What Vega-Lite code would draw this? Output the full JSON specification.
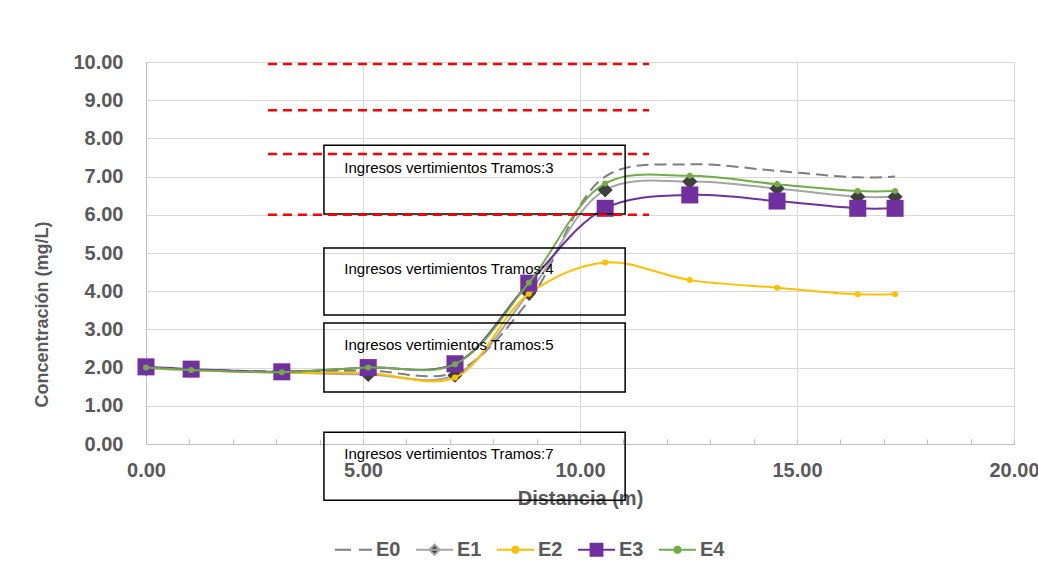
{
  "$schema": "https://vega.github.io/schema/vega-lite/v6.json",
  "width": 868,
  "height": 382,
  "autosize": "none",
  "padding": {"left": 146, "top": 62, "right": 24, "bottom": 120},
  "background": "white",
  "config": {
    "font": "Liberation Sans",
    "view": {"stroke": null},
    "axis": {
      "labelFont": "Liberation Sans",
      "labelFontWeight": "bold",
      "labelFontSize": 20,
      "labelColor": "#595959",
      "titleFont": "Liberation Sans",
      "titleFontWeight": "bold",
      "titleFontSize": 20,
      "titleColor": "#595959",
      "gridColor": "#d9d9d9",
      "gridWidth": 1,
      "domainColor": "#bfbfbf",
      "domainWidth": 1
    }
  },
  "datasets": {
    "series": [
      {"serie": "E0", "d": 0, "c": 2.0}, {"serie": "E0", "d": 1.04, "c": 1.95}, {"serie": "E0", "d": 3.13, "c": 1.9}, {"serie": "E0", "d": 5.12, "c": 1.92}, {"serie": "E0", "d": 7.12, "c": 1.88}, {"serie": "E0", "d": 8.82, "c": 3.75}, {"serie": "E0", "d": 10.58, "c": 7.0}, {"serie": "E0", "d": 12.53, "c": 7.32}, {"serie": "E0", "d": 14.54, "c": 7.15}, {"serie": "E0", "d": 16.4, "c": 6.98}, {"serie": "E0", "d": 17.26, "c": 7.0},
      {"serie": "E1", "d": 0, "c": 1.98}, {"serie": "E1", "d": 1.04, "c": 1.93}, {"serie": "E1", "d": 3.13, "c": 1.87}, {"serie": "E1", "d": 5.12, "c": 1.82}, {"serie": "E1", "d": 7.12, "c": 1.8}, {"serie": "E1", "d": 8.82, "c": 3.95}, {"serie": "E1", "d": 10.58, "c": 6.65}, {"serie": "E1", "d": 12.53, "c": 6.87}, {"serie": "E1", "d": 14.54, "c": 6.69}, {"serie": "E1", "d": 16.4, "c": 6.47}, {"serie": "E1", "d": 17.26, "c": 6.47},
      {"serie": "E2", "d": 0, "c": 2.0}, {"serie": "E2", "d": 1.04, "c": 1.94}, {"serie": "E2", "d": 3.13, "c": 1.87}, {"serie": "E2", "d": 5.12, "c": 1.86}, {"serie": "E2", "d": 7.12, "c": 1.74}, {"serie": "E2", "d": 8.82, "c": 3.93}, {"serie": "E2", "d": 10.58, "c": 4.75}, {"serie": "E2", "d": 12.53, "c": 4.29}, {"serie": "E2", "d": 14.54, "c": 4.09}, {"serie": "E2", "d": 16.4, "c": 3.92}, {"serie": "E2", "d": 17.26, "c": 3.92},
      {"serie": "E3", "d": 0, "c": 2.02}, {"serie": "E3", "d": 1.04, "c": 1.96}, {"serie": "E3", "d": 3.13, "c": 1.89}, {"serie": "E3", "d": 5.12, "c": 2.0}, {"serie": "E3", "d": 7.12, "c": 2.1}, {"serie": "E3", "d": 8.82, "c": 4.21}, {"serie": "E3", "d": 10.58, "c": 6.17}, {"serie": "E3", "d": 12.53, "c": 6.52}, {"serie": "E3", "d": 14.54, "c": 6.36}, {"serie": "E3", "d": 16.4, "c": 6.17}, {"serie": "E3", "d": 17.26, "c": 6.17},
      {"serie": "E4", "d": 0, "c": 2.0}, {"serie": "E4", "d": 1.04, "c": 1.94}, {"serie": "E4", "d": 3.13, "c": 1.88}, {"serie": "E4", "d": 5.12, "c": 2.0}, {"serie": "E4", "d": 7.12, "c": 2.09}, {"serie": "E4", "d": 8.82, "c": 4.22}, {"serie": "E4", "d": 10.58, "c": 6.82}, {"serie": "E4", "d": 12.53, "c": 7.02}, {"serie": "E4", "d": 14.54, "c": 6.8}, {"serie": "E4", "d": 16.4, "c": 6.62}, {"serie": "E4", "d": 17.26, "c": 6.62}
    ],
    "limits": [
      {"a": 2.81, "b": 11.59, "v": 9.95},
      {"a": 2.81, "b": 11.59, "v": 8.74},
      {"a": 2.81, "b": 11.59, "v": 7.59},
      {"a": 2.81, "b": 11.59, "v": 6.0}
    ],
    "boxes": [
      {"x1": 4.1, "x2": 11.04, "y1": 7.82, "y2": 6.02},
      {"x1": 4.1, "x2": 11.04, "y1": 5.13, "y2": 3.38},
      {"x1": 4.1, "x2": 11.04, "y1": 3.17, "y2": 1.36},
      {"x1": 4.1, "x2": 11.04, "y1": 0.31, "y2": -1.47}
    ],
    "labels": [
      {"x": 4.57, "y": 7.09, "t": "Ingresos vertimientos Tramos:3"},
      {"x": 4.57, "y": 4.45, "t": "Ingresos vertimientos Tramos:4"},
      {"x": 4.57, "y": 2.46, "t": "Ingresos vertimientos Tramos:5"},
      {"x": 4.57, "y": -0.39, "t": "Ingresos vertimientos Tramos:7"}
    ]
  },
  "layer": [
    {
      "data": {"name": "series"},
      "transform": [{"filter": "datum.serie === 'E0'"}],
      "mark": {"type": "line", "interpolate": "catmull-rom", "strokeWidth": 2, "strokeDash": [12, 6]},
      "encoding": {
        "x": {
          "field": "d", "type": "quantitative",
          "scale": {"domain": [0, 20], "nice": false, "zero": false},
          "axis": {
            "title": "Distancia (m)",
            "values": [0,1,2,3,4,5,6,7,8,9,10,11,12,13,14,15,16,17,18,19,20],
            "tickCount": 40,
            "labelExpr": "datum.value % 5 === 0 ? format(datum.value, '.2f') : ''",
            "labelOverlap": false,
            "labelFlush": false,
            "gridOpacity": {"condition": {"test": "datum.value % 5 === 0", "value": 1}, "value": 0},
            "tickColor": "#bfbfbf",
            "tickSize": -5,
            "labelPadding": 21,
            "titlePadding": 8
          }
        },
        "y": {
          "field": "c", "type": "quantitative",
          "scale": {"domain": [0, 10], "nice": false, "zero": false},
          "axis": {
            "title": "Concentración (mg/L)",
            "values": [0,1,2,3,4,5,6,7,8,9,10],
            "tickCount": 20,
            "format": ".2f",
            "labelOverlap": false,
            "ticks": false,
            "labelPadding": 23,
            "titleFontSize": 18,
            "titleX": -104,
            "titleY": 252,
            "titleAngle": 270,
            "titleBaseline": "middle",
            "titleAlign": "center"
          }
        },
        "color": {
          "field": "serie", "type": "nominal",
          "scale": {"domain": ["E0", "E1", "E2", "E3", "E4"], "range": ["#7f7f7f", "#a5a5a5", "#ffc000", "#7030a0", "#70ad47"]},
          "legend": {
            "title": null,
            "orient": "none",
            "legendX": 188,
            "legendY": 468,
            "direction": "horizontal",
            "columns": 5,
            "padding": 0,
            "symbolSize": 1369,
            "symbolStrokeWidth": 2,
            "labelFont": "Liberation Sans",
            "labelFontSize": 20,
            "labelFontWeight": "bold",
            "labelColor": "#595959",
            "labelOffset": 3,
            "columnPadding": 11,
            "encode": {
              "symbols": {
                "update": {
                  "shape": {"signal": "datum.value === 'E0' ? 'M-1,0H1' : datum.value === 'E1' ? 'M-1,0H1M0,-0.28L0.28,0L0,0.28L-0.28,0Z' : datum.value === 'E3' ? 'M-1,0H1M-0.32,-0.32H0.32V0.32H-0.32Z' : 'M-1,0H1M0.16,0A0.16,0.16,0,1,1,-0.16,0A0.16,0.16,0,1,1,0.16,0Z'"},
                  "fill": {"signal": "datum.value === 'E1' ? '#404040' : datum.value === 'E2' ? '#ffc000' : datum.value === 'E3' ? '#7030a0' : datum.value === 'E4' ? '#70ad47' : 'transparent'"},
                  "stroke": {"scale": "color", "field": "value"},
                  "strokeDash": {"signal": "datum.value === 'E0' ? [16, 8] : []"},
                  "strokeWidth": {"value": 2},
                  "opacity": {"value": 1}
                }
              }
            }
          }
        }
      }
    },
    {
      "data": {"name": "series"},
      "transform": [{"filter": "datum.serie === 'E1'"}],
      "mark": {"type": "line", "interpolate": "catmull-rom", "strokeWidth": 2},
      "encoding": {"x": {"field": "d", "type": "quantitative"}, "y": {"field": "c", "type": "quantitative"}, "color": {"field": "serie", "type": "nominal"}}
    },
    {
      "data": {"name": "series"},
      "transform": [{"filter": "datum.serie === 'E1'"}],
      "mark": {"type": "point", "shape": "diamond", "size": 230, "filled": true, "opacity": 1, "color": "#404040"},
      "encoding": {"x": {"field": "d", "type": "quantitative"}, "y": {"field": "c", "type": "quantitative"}}
    },
    {
      "data": {"name": "series"},
      "transform": [{"filter": "datum.serie === 'E2'"}],
      "mark": {"type": "line", "interpolate": "catmull-rom", "strokeWidth": 2},
      "encoding": {"x": {"field": "d", "type": "quantitative"}, "y": {"field": "c", "type": "quantitative"}, "color": {"field": "serie", "type": "nominal"}}
    },
    {
      "data": {"name": "series"},
      "transform": [{"filter": "datum.serie === 'E2'"}],
      "mark": {"type": "point", "shape": "circle", "size": 36, "filled": true, "opacity": 1, "color": "#ffc000"},
      "encoding": {"x": {"field": "d", "type": "quantitative"}, "y": {"field": "c", "type": "quantitative"}}
    },
    {
      "data": {"name": "series"},
      "transform": [{"filter": "datum.serie === 'E3'"}],
      "mark": {"type": "line", "interpolate": "catmull-rom", "strokeWidth": 2},
      "encoding": {"x": {"field": "d", "type": "quantitative"}, "y": {"field": "c", "type": "quantitative"}, "color": {"field": "serie", "type": "nominal"}}
    },
    {
      "data": {"name": "series"},
      "transform": [{"filter": "datum.serie === 'E3'"}],
      "mark": {"type": "point", "shape": "square", "size": 290, "filled": true, "opacity": 1, "color": "#7030a0"},
      "encoding": {"x": {"field": "d", "type": "quantitative"}, "y": {"field": "c", "type": "quantitative"}}
    },
    {
      "data": {"name": "series"},
      "transform": [{"filter": "datum.serie === 'E4'"}],
      "mark": {"type": "line", "interpolate": "catmull-rom", "strokeWidth": 2},
      "encoding": {"x": {"field": "d", "type": "quantitative"}, "y": {"field": "c", "type": "quantitative"}, "color": {"field": "serie", "type": "nominal"}}
    },
    {
      "data": {"name": "series"},
      "transform": [{"filter": "datum.serie === 'E4'"}],
      "mark": {"type": "point", "shape": "circle", "size": 36, "filled": true, "opacity": 1, "color": "#70ad47"},
      "encoding": {"x": {"field": "d", "type": "quantitative"}, "y": {"field": "c", "type": "quantitative"}}
    },
    {
      "data": {"name": "boxes"},
      "mark": {"type": "rect", "fill": null, "fillOpacity": 0, "stroke": "#000000", "strokeWidth": 1.5},
      "encoding": {
        "x": {"field": "x1", "type": "quantitative"},
        "x2": {"field": "x2"},
        "y": {"field": "y1", "type": "quantitative"},
        "y2": {"field": "y2"}
      }
    },
    {
      "data": {"name": "limits"},
      "mark": {"type": "rule", "color": "#ff0000", "strokeWidth": 2.5, "strokeDash": [9, 6]},
      "encoding": {
        "x": {"field": "a", "type": "quantitative"},
        "x2": {"field": "b"},
        "y": {"field": "v", "type": "quantitative"}
      }
    },
    {
      "data": {"name": "labels"},
      "mark": {"type": "text", "align": "left", "baseline": "alphabetic", "font": "Liberation Sans", "fontSize": 15, "color": "#000000"},
      "encoding": {
        "x": {"field": "x", "type": "quantitative"},
        "y": {"field": "y", "type": "quantitative"},
        "text": {"field": "t"}
      }
    }
  ]
}
